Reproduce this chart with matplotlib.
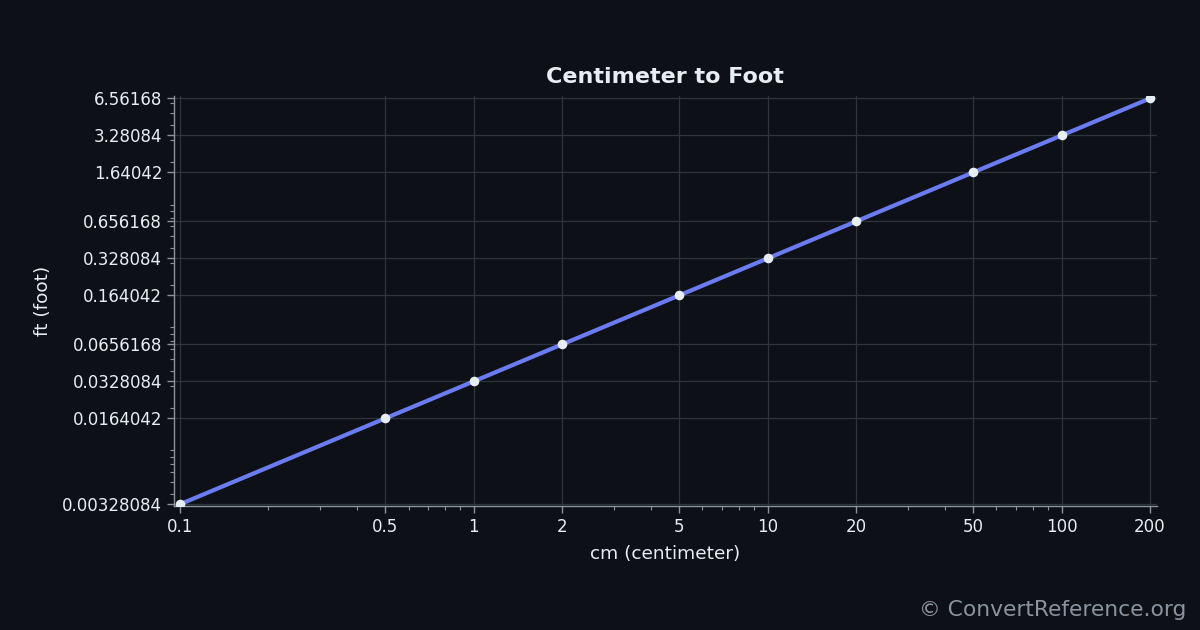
import matplotlib
matplotlib.use("Agg")
import matplotlib.pyplot as plt
from matplotlib.ticker import FixedLocator, FixedFormatter, LogLocator, NullFormatter

cm_values = [0.1, 0.5, 1, 2, 5, 10, 20, 50, 100, 200]
ft_values = [0.00328084, 0.0164042, 0.0328084, 0.0656168, 0.164042, 0.328084,
             0.656168, 1.64042, 3.28084, 6.56168]
x_tick_labels = ["0.1", "0.5", "1", "2", "5", "10", "20", "50", "100", "200"]
y_tick_labels = ["0.00328084", "0.0164042", "0.0328084", "0.0656168", "0.164042",
                 "0.328084", "0.656168", "1.64042", "3.28084", "6.56168"]

BG = "#0d1117"
FG = "#e6edf3"
GRID = "#2e343c"
SPINE = "#8b949e"
LINE = "#6b7cf2"

plt.rcParams['font.family'] = ['DejaVu Sans']
fig = plt.figure(figsize=(12, 6.3), dpi=100, facecolor=BG)
ax = fig.add_axes([0.145, 0.197, 0.819, 0.651])
ax.set_facecolor(BG)

ax.plot(cm_values, ft_values, color=LINE, linewidth=3, zorder=3)
ax.scatter(cm_values, ft_values, s=48, color=FG, zorder=4, linewidths=0)

ax.set_xscale("log")
ax.set_yscale("log")
ax.set_xlim(0.0954, 211)
ax.set_ylim(0.00318, 6.9)

ax.xaxis.set_major_locator(FixedLocator(cm_values))
ax.xaxis.set_major_formatter(FixedFormatter(x_tick_labels))
ax.yaxis.set_major_locator(FixedLocator(ft_values))
ax.yaxis.set_major_formatter(FixedFormatter(y_tick_labels))
ax.xaxis.set_minor_locator(LogLocator(base=10, subs=range(2, 10)))
ax.yaxis.set_minor_locator(LogLocator(base=10, subs=range(2, 10)))
ax.xaxis.set_minor_formatter(NullFormatter())
ax.yaxis.set_minor_formatter(NullFormatter())

ax.tick_params(axis="both", which="major", colors=SPINE, labelcolor=FG,
               labelsize=12, length=5, width=1)
ax.tick_params(axis="both", which="minor", colors=SPINE, length=3, width=0.8)

ax.grid(True, which="major", color=GRID, linewidth=0.9)
for side in ["top", "right"]:
    ax.spines[side].set_visible(False)
for side in ["left", "bottom"]:
    ax.spines[side].set_color(SPINE)
    ax.spines[side].set_linewidth(1)

ax.set_title("Centimeter to Foot", color=FG, fontsize=16, fontweight="bold", pad=9)
ax.set_xlabel("cm (centimeter)", color=FG, fontsize=13.3, labelpad=7)
ax.set_ylabel("ft (foot)", color=FG, fontsize=13.3, labelpad=7)

fig.text(0.989, 0.023, "© ConvertReference.org", color=SPINE, fontsize=15.7,
         ha="right", va="baseline")

fig.savefig("out.png", dpi=100, facecolor=BG)
